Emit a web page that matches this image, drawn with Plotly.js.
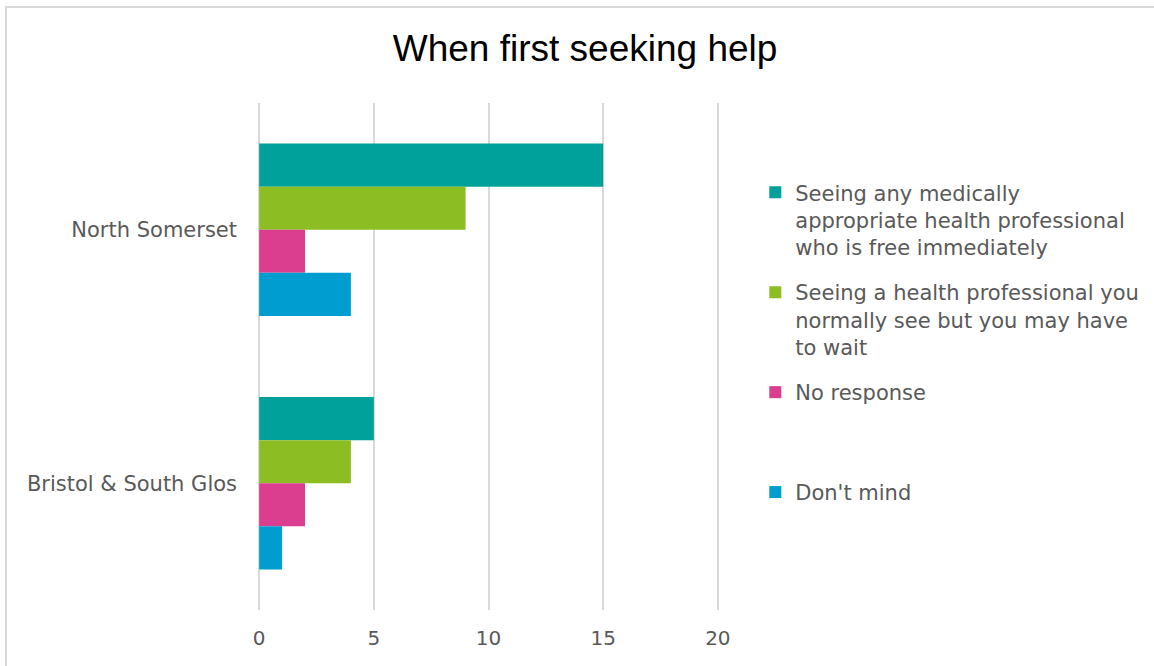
<!DOCTYPE html>
<html>
<head>
<meta charset="utf-8">
<script src="https://cdn.plot.ly/plotly-3.0.1.min.js"></script>
<style>
  html, body { margin: 0; padding: 0; background: #ffffff; overflow: hidden; }
  #chart { position: absolute; left: 0; top: 0; width: 1154px; height: 666px; }
  #frame { position: absolute; left: 5px; top: 6px; width: 1200px; height: 720px;
           border: 2px solid #d9d9d9; pointer-events: none; }
</style>
</head>
<body>
<div id="chart"></div>
<div id="frame"></div>
<script>
// Data
const categories = ["North Somerset", "Bristol & South Glos"];
const seriesNames = [
  "Seeing any medically<br>appropriate health professional<br>who is free immediately",
  "Seeing a health professional you<br>normally see but you may have<br>to wait",
  "No response<br> <br> ",
  "Don't mind"
];
const seeingAnyValues   = [15, 5];
const seeingUsualValues = [9, 4];
const noResponseValues  = [2, 2];
const dontMindValues    = [4, 1];
const seriesColors = ["#00A19A", "#8CBE23", "#DB3E8E", "#009ED0"];
const xTickValues = [0, 5, 10, 15, 20];

const seriesValues = [seeingAnyValues, seeingUsualValues, noResponseValues, dontMindValues];

const traces = seriesValues.map((vals, i) => ({
  type: "bar",
  orientation: "h",
  name: seriesNames[i],
  x: vals,
  y: categories,
  legendgroup: "g" + i,
  marker: { color: seriesColors[i], line: { width: 0 } },
  hoverinfo: "x+y"
}));

const textColor = "#595959";
const uiFont = "DejaVu Sans, Verdana, sans-serif";

const layout = {
  width: 1154,
  height: 666,
  margin: { l: 258, r: 435, t: 103, b: 56, autoexpand: false },
  paper_bgcolor: "#ffffff",
  plot_bgcolor: "#ffffff",
  barmode: "group",
  bargap: 0.32,
  bargroupgap: 0,
  showlegend: true,
  title: {
    text: "When first seeking help",
    font: { family: "Liberation Sans, Arial, sans-serif", size: 37, color: "#000000" },
    x: 0.507, xanchor: "center", xref: "container",
    y: 0.928, yanchor: "middle", yref: "container"
  },
  xaxis: {
    range: [-0.05, 20.05],
    tickvals: xTickValues,
    ticktext: xTickValues.map(String),
    showgrid: true,
    gridcolor: "#d9d9d9",
    gridwidth: 2,
    zeroline: false,
    showline: false,
    ticks: "",
    ticklabelstandoff: 14,
    tickfont: { family: uiFont, size: 20, color: textColor },
    fixedrange: true
  },
  yaxis: {
    type: "category",
    autorange: "reversed",
    showgrid: false,
    zeroline: false,
    showline: false,
    ticks: "",
    ticklabelstandoff: 20,
    tickfont: { family: uiFont, size: 21, color: textColor },
    fixedrange: true
  },
  legend: {
    xref: "container",
    x: 0.6545, xanchor: "left",
    y: 0.8635, yanchor: "top",
    valign: "top",
    tracegroupgap: 15,
    traceorder: "grouped",
    bgcolor: "rgba(0,0,0,0)",
    font: { family: uiFont, size: 21, color: textColor }
  }
};

Plotly.newPlot("chart", traces, layout, { displayModeBar: false, staticPlot: true });
</script>
</body>
</html>
